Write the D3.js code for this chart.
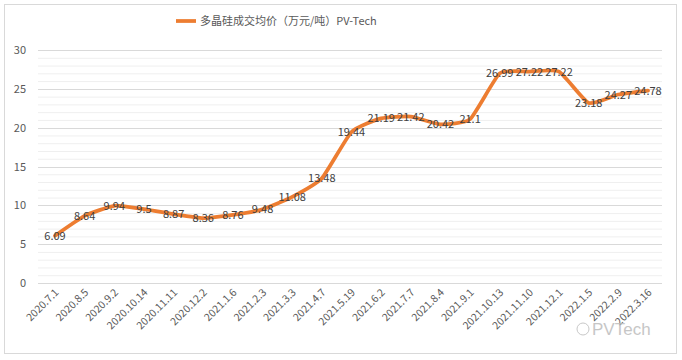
<!DOCTYPE html>
<html><head><meta charset="utf-8">
<script src="https://cdn.jsdelivr.net/npm/d3@7"></script>
<style>body{margin:0;background:#fff}svg{display:block}</style>
</head><body>
<svg id="c" width="682" height="360"></svg>
<script>
const categories = ["2020.7.1","2020.8.5","2020.9.2","2020.10.14","2020.11.11","2020.12.2","2021.1.6","2021.2.3","2021.3.3","2021.4.7","2021.5.19","2021.6.2","2021.7.7","2021.8.4","2021.9.1","2021.10.13","2021.11.10","2021.12.1","2022.1.5","2022.2.9","2022.3.16"];
const prices = [6.09,8.64,9.94,9.5,8.87,8.36,8.76,9.48,11.08,13.48,19.44,21.19,21.42,20.42,21.1,26.99,27.22,27.22,23.18,24.27,24.78];
const yTicks = [0,5,10,15,20,25,30];
const seriesName = "多晶硅成交均价（万元/吨）PV-Tech";

const svg = d3.select("#c");
const font = "'Noto Sans CJK SC','Liberation Sans',sans-serif";

svg.append("rect").attr("x",4.5).attr("y",4.5).attr("width",672).attr("height",349)
  .attr("fill","#fff").attr("stroke","#d9d9d9");

const x = d3.scalePoint().domain(categories).range([55,648]);
const y = d3.scaleLinear().domain([0,30]).range([283,50]);

const g = svg.append("g");
g.selectAll("line.minor").data(d3.range(0,31,1).filter(v=>v%5!==0)).join("line")
  .attr("x1",38).attr("x2",662).attr("y1",d=>y(d)+0.5).attr("y2",d=>y(d)+0.5)
  .attr("stroke","#efefef").attr("stroke-width",1);
g.selectAll("line.major").data(yTicks).join("line")
  .attr("x1",38).attr("x2",662).attr("y1",d=>Math.round(y(d))+0.5).attr("y2",d=>Math.round(y(d))+0.5)
  .attr("stroke","#d9d9d9").attr("stroke-width",1);

const ya = d3.axisLeft(y).tickValues(yTicks).tickSize(0).tickPadding(0);
const yg = svg.append("g").attr("transform","translate(26,0)").call(ya);
yg.select(".domain").remove();
yg.selectAll("text").attr("font-family",font).attr("font-size",11).attr("fill","#595959");

const xa = d3.axisBottom(x).tickSize(0).tickPadding(0);
const xg = svg.append("g").attr("transform","translate(0,283)").call(xa);
xg.select(".domain").remove();
xg.selectAll("text").attr("font-family",font).attr("font-size",10.5).attr("fill","#595959")
  .attr("text-anchor","end").attr("dy",0)
  .attr("transform","translate(4,10) rotate(-45)");

const line = d3.line().x((d,i)=>x(categories[i])).y(d=>y(d)).curve(d3.curveCardinal.tension(0.5));
svg.append("path").datum(prices).attr("d",line).attr("fill","none")
  .attr("stroke","#ED7D31").attr("stroke-width",3.75).attr("stroke-linejoin","round").attr("stroke-linecap","round");

svg.append("g").selectAll("text").data(prices).join("text")
  .attr("x",(d,i)=>x(categories[i])).attr("y",d=>y(d)+4)
  .attr("text-anchor","middle").attr("font-family",font).attr("font-size",11).attr("fill","#404040")
  .text(d=>d);

svg.append("line").attr("x1",176).attr("x2",196).attr("y1",21).attr("y2",21)
  .attr("stroke","#ED7D31").attr("stroke-width",3.75);
svg.append("text").attr("x",200).attr("y",25).attr("font-family",font).attr("font-size",11)
  .attr("fill","#595959").text(seriesName);

svg.append("text").attr("x",592).attr("y",335).attr("font-family","'Liberation Sans',sans-serif")
  .attr("font-size",17).attr("fill","#bdbdbd").attr("opacity",0.85).text("PVTech");
svg.append("circle").attr("cx",583).attr("cy",329).attr("r",6).attr("fill","none").attr("stroke","#c8c8c8");
</script>
</body></html>
